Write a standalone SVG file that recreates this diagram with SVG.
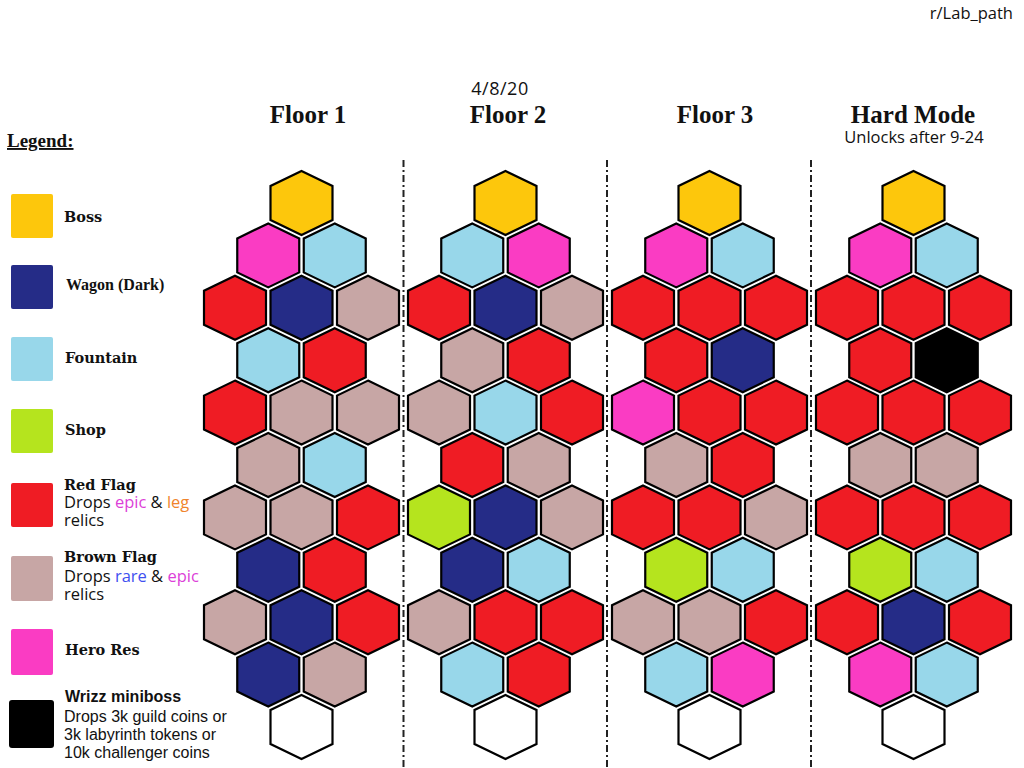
<svg xmlns="http://www.w3.org/2000/svg" width="1024" height="768" viewBox="0 0 1024 768">
<style>
.hx{stroke:#000;stroke-width:2.2;stroke-linejoin:miter}
.Y{fill:#FDC70C}.P{fill:#FA3CC3}.L{fill:#98D7EA}.R{fill:#EF1C24}.N{fill:#252C87}.B{fill:#C7A6A5}.G{fill:#B5E41E}.K{fill:#000}.W{fill:#fff}
.ttl{font-family:"Liberation Serif","Times New Roman",serif;font-weight:bold;font-size:25px;fill:#111;text-anchor:middle}
.lg{font-family:"DejaVu Serif","Liberation Serif",serif;font-weight:bold;font-size:14.5px;fill:#111}
.sn{font-family:"Open Sans","Liberation Sans",sans-serif;fill:#111}
.ar{font-family:"Liberation Sans",Arial,sans-serif;fill:#111}
.div{stroke:#222;stroke-width:2;stroke-dasharray:7 3 2 3;fill:none}
</style>
<defs>
<polygon id="hex" class="hx" points="0,-32 31,-17 31,17 0,32 -31,17 -31,-17"/>
</defs>
<rect width="1024" height="768" fill="#fff"/>

<text class="sn" x="1013" y="19" font-size="16.5" text-anchor="end">r/Lab_path</text>
<text class="sn" x="500" y="95" font-size="18" letter-spacing="0.5" text-anchor="middle">4/8/20</text>
<text class="ttl" x="308" y="123">Floor 1</text>
<text class="ttl" x="508" y="123">Floor 2</text>
<text class="ttl" x="715" y="123">Floor 3</text>
<text class="ttl" x="913" y="123">Hard Mode</text>
<text class="sn" x="914" y="143" font-size="16.5" text-anchor="middle">Unlocks after 9-24</text>

<g id="legend">
<text x="7" y="147" font-family="Liberation Serif,Times New Roman,serif" font-weight="bold" font-size="19" fill="#111" text-decoration="underline">Legend:</text>
<g id="lg-boss"><rect x="11" y="194" width="42" height="44" rx="2" class="Y"/><text class="lg" x="64" y="222">Boss</text></g>
<g id="lg-wagon"><rect x="11" y="265" width="42" height="44" rx="2" class="N"/><text x="66" y="290" font-family="Liberation Serif,Times New Roman,serif" font-weight="bold" font-size="16" fill="#111">Wagon (Dark)</text></g>
<g id="lg-fountain"><rect x="11" y="337" width="42" height="44" rx="2" class="L"/><text class="lg" x="65" y="363">Fountain</text></g>
<g id="lg-shop"><rect x="11" y="409" width="42" height="44" rx="2" class="G"/><text class="lg" x="65" y="435">Shop</text></g>
<g id="lg-red"><rect x="11" y="483" width="42" height="44" rx="2" class="R"/><text class="lg" x="64" y="490">Red Flag</text>
<text class="sn" x="64" y="508" font-size="16.5">Drops <tspan fill="#DC3FD8">epic</tspan> &amp; <tspan fill="#F0842C">leg</tspan></text>
<text class="sn" x="64" y="526" font-size="16.5">relics</text></g>
<g id="lg-brown"><rect x="11" y="556" width="42" height="45" rx="2" class="B"/><text class="lg" x="64" y="562">Brown Flag</text>
<text class="sn" x="64" y="582" font-size="16.5">Drops <tspan fill="#4050F0">rare</tspan> &amp; <tspan fill="#DC3FD8">epic</tspan></text>
<text class="sn" x="64" y="600" font-size="16.5">relics</text></g>
<g id="lg-hero"><rect x="11" y="629" width="42" height="46" rx="2" class="P"/><text class="lg" x="65" y="655">Hero Res</text></g>
<g id="lg-wrizz"><rect x="9" y="700" width="45" height="48" rx="3" class="K"/>
<text class="ar" x="65" y="702" font-size="16" font-weight="bold">Wrizz miniboss</text>
<text class="ar" x="64" y="722" font-size="16">Drops 3k guild coins or</text>
<text class="ar" x="64" y="740" font-size="16">3k labyrinth tokens or</text>
<text class="ar" x="64" y="758" font-size="16">10k challenger coins</text></g>
</g>

<g id="connectors">
<line class="div" x1="403.5" y1="160" x2="403.5" y2="768"/>
<line class="div" x1="607" y1="160" x2="607" y2="768"/>
<line class="div" x1="811" y1="160" x2="811" y2="768"/>
</g>

<g id="floor1" transform="translate(301.5,0)">
<g id="f1-0-0"><use href="#hex" x="0" y="203" class="Y"/></g>
<g id="f1-1-0"><use href="#hex" x="-33.25" y="255.4" class="P"/></g>
<g id="f1-1-1"><use href="#hex" x="33.25" y="255.4" class="L"/></g>
<g id="f1-2-0"><use href="#hex" x="-66.5" y="307.8" class="R"/></g>
<g id="f1-2-1"><use href="#hex" x="0" y="307.8" class="N"/></g>
<g id="f1-2-2"><use href="#hex" x="66.5" y="307.8" class="B"/></g>
<g id="f1-3-0"><use href="#hex" x="-33.25" y="360.2" class="L"/></g>
<g id="f1-3-1"><use href="#hex" x="33.25" y="360.2" class="R"/></g>
<g id="f1-4-0"><use href="#hex" x="-66.5" y="412.6" class="R"/></g>
<g id="f1-4-1"><use href="#hex" x="0" y="412.6" class="B"/></g>
<g id="f1-4-2"><use href="#hex" x="66.5" y="412.6" class="B"/></g>
<g id="f1-5-0"><use href="#hex" x="-33.25" y="465" class="B"/></g>
<g id="f1-5-1"><use href="#hex" x="33.25" y="465" class="L"/></g>
<g id="f1-6-0"><use href="#hex" x="-66.5" y="517.4" class="B"/></g>
<g id="f1-6-1"><use href="#hex" x="0" y="517.4" class="B"/></g>
<g id="f1-6-2"><use href="#hex" x="66.5" y="517.4" class="R"/></g>
<g id="f1-7-0"><use href="#hex" x="-33.25" y="569.8" class="N"/></g>
<g id="f1-7-1"><use href="#hex" x="33.25" y="569.8" class="R"/></g>
<g id="f1-8-0"><use href="#hex" x="-66.5" y="622.2" class="B"/></g>
<g id="f1-8-1"><use href="#hex" x="0" y="622.2" class="N"/></g>
<g id="f1-8-2"><use href="#hex" x="66.5" y="622.2" class="R"/></g>
<g id="f1-9-0"><use href="#hex" x="-33.25" y="674.6" class="N"/></g>
<g id="f1-9-1"><use href="#hex" x="33.25" y="674.6" class="B"/></g>
<g id="f1-10-0"><use href="#hex" x="0" y="727" class="W"/></g>
</g>

<g id="floor2" transform="translate(505.5,0)">
<g id="f2-0-0"><use href="#hex" x="0" y="203" class="Y"/></g>
<g id="f2-1-0"><use href="#hex" x="-33.25" y="255.4" class="L"/></g>
<g id="f2-1-1"><use href="#hex" x="33.25" y="255.4" class="P"/></g>
<g id="f2-2-0"><use href="#hex" x="-66.5" y="307.8" class="R"/></g>
<g id="f2-2-1"><use href="#hex" x="0" y="307.8" class="N"/></g>
<g id="f2-2-2"><use href="#hex" x="66.5" y="307.8" class="B"/></g>
<g id="f2-3-0"><use href="#hex" x="-33.25" y="360.2" class="B"/></g>
<g id="f2-3-1"><use href="#hex" x="33.25" y="360.2" class="R"/></g>
<g id="f2-4-0"><use href="#hex" x="-66.5" y="412.6" class="B"/></g>
<g id="f2-4-1"><use href="#hex" x="0" y="412.6" class="L"/></g>
<g id="f2-4-2"><use href="#hex" x="66.5" y="412.6" class="R"/></g>
<g id="f2-5-0"><use href="#hex" x="-33.25" y="465" class="R"/></g>
<g id="f2-5-1"><use href="#hex" x="33.25" y="465" class="B"/></g>
<g id="f2-6-0"><use href="#hex" x="-66.5" y="517.4" class="G"/></g>
<g id="f2-6-1"><use href="#hex" x="0" y="517.4" class="N"/></g>
<g id="f2-6-2"><use href="#hex" x="66.5" y="517.4" class="B"/></g>
<g id="f2-7-0"><use href="#hex" x="-33.25" y="569.8" class="N"/></g>
<g id="f2-7-1"><use href="#hex" x="33.25" y="569.8" class="L"/></g>
<g id="f2-8-0"><use href="#hex" x="-66.5" y="622.2" class="B"/></g>
<g id="f2-8-1"><use href="#hex" x="0" y="622.2" class="R"/></g>
<g id="f2-8-2"><use href="#hex" x="66.5" y="622.2" class="R"/></g>
<g id="f2-9-0"><use href="#hex" x="-33.25" y="674.6" class="L"/></g>
<g id="f2-9-1"><use href="#hex" x="33.25" y="674.6" class="R"/></g>
<g id="f2-10-0"><use href="#hex" x="0" y="727" class="W"/></g>
</g>

<g id="floor3" transform="translate(709.5,0)">
<g id="f3-0-0"><use href="#hex" x="0" y="203" class="Y"/></g>
<g id="f3-1-0"><use href="#hex" x="-33.25" y="255.4" class="P"/></g>
<g id="f3-1-1"><use href="#hex" x="33.25" y="255.4" class="L"/></g>
<g id="f3-2-0"><use href="#hex" x="-66.5" y="307.8" class="R"/></g>
<g id="f3-2-1"><use href="#hex" x="0" y="307.8" class="R"/></g>
<g id="f3-2-2"><use href="#hex" x="66.5" y="307.8" class="R"/></g>
<g id="f3-3-0"><use href="#hex" x="-33.25" y="360.2" class="R"/></g>
<g id="f3-3-1"><use href="#hex" x="33.25" y="360.2" class="N"/></g>
<g id="f3-4-0"><use href="#hex" x="-66.5" y="412.6" class="P"/></g>
<g id="f3-4-1"><use href="#hex" x="0" y="412.6" class="R"/></g>
<g id="f3-4-2"><use href="#hex" x="66.5" y="412.6" class="R"/></g>
<g id="f3-5-0"><use href="#hex" x="-33.25" y="465" class="B"/></g>
<g id="f3-5-1"><use href="#hex" x="33.25" y="465" class="R"/></g>
<g id="f3-6-0"><use href="#hex" x="-66.5" y="517.4" class="R"/></g>
<g id="f3-6-1"><use href="#hex" x="0" y="517.4" class="R"/></g>
<g id="f3-6-2"><use href="#hex" x="66.5" y="517.4" class="B"/></g>
<g id="f3-7-0"><use href="#hex" x="-33.25" y="569.8" class="G"/></g>
<g id="f3-7-1"><use href="#hex" x="33.25" y="569.8" class="L"/></g>
<g id="f3-8-0"><use href="#hex" x="-66.5" y="622.2" class="B"/></g>
<g id="f3-8-1"><use href="#hex" x="0" y="622.2" class="B"/></g>
<g id="f3-8-2"><use href="#hex" x="66.5" y="622.2" class="R"/></g>
<g id="f3-9-0"><use href="#hex" x="-33.25" y="674.6" class="L"/></g>
<g id="f3-9-1"><use href="#hex" x="33.25" y="674.6" class="P"/></g>
<g id="f3-10-0"><use href="#hex" x="0" y="727" class="W"/></g>
</g>

<g id="hardmode" transform="translate(913.5,0)">
<g id="hm-0-0"><use href="#hex" x="0" y="203" class="Y"/></g>
<g id="hm-1-0"><use href="#hex" x="-33.25" y="255.4" class="P"/></g>
<g id="hm-1-1"><use href="#hex" x="33.25" y="255.4" class="L"/></g>
<g id="hm-2-0"><use href="#hex" x="-66.5" y="307.8" class="R"/></g>
<g id="hm-2-1"><use href="#hex" x="0" y="307.8" class="R"/></g>
<g id="hm-2-2"><use href="#hex" x="66.5" y="307.8" class="R"/></g>
<g id="hm-3-0"><use href="#hex" x="-33.25" y="360.2" class="R"/></g>
<g id="hm-3-1"><use href="#hex" x="33.25" y="360.2" class="K"/></g>
<g id="hm-4-0"><use href="#hex" x="-66.5" y="412.6" class="R"/></g>
<g id="hm-4-1"><use href="#hex" x="0" y="412.6" class="R"/></g>
<g id="hm-4-2"><use href="#hex" x="66.5" y="412.6" class="R"/></g>
<g id="hm-5-0"><use href="#hex" x="-33.25" y="465" class="B"/></g>
<g id="hm-5-1"><use href="#hex" x="33.25" y="465" class="B"/></g>
<g id="hm-6-0"><use href="#hex" x="-66.5" y="517.4" class="R"/></g>
<g id="hm-6-1"><use href="#hex" x="0" y="517.4" class="R"/></g>
<g id="hm-6-2"><use href="#hex" x="66.5" y="517.4" class="R"/></g>
<g id="hm-7-0"><use href="#hex" x="-33.25" y="569.8" class="G"/></g>
<g id="hm-7-1"><use href="#hex" x="33.25" y="569.8" class="L"/></g>
<g id="hm-8-0"><use href="#hex" x="-66.5" y="622.2" class="R"/></g>
<g id="hm-8-1"><use href="#hex" x="0" y="622.2" class="N"/></g>
<g id="hm-8-2"><use href="#hex" x="66.5" y="622.2" class="R"/></g>
<g id="hm-9-0"><use href="#hex" x="-33.25" y="674.6" class="P"/></g>
<g id="hm-9-1"><use href="#hex" x="33.25" y="674.6" class="L"/></g>
<g id="hm-10-0"><use href="#hex" x="0" y="727" class="W"/></g>
</g>
</svg>
